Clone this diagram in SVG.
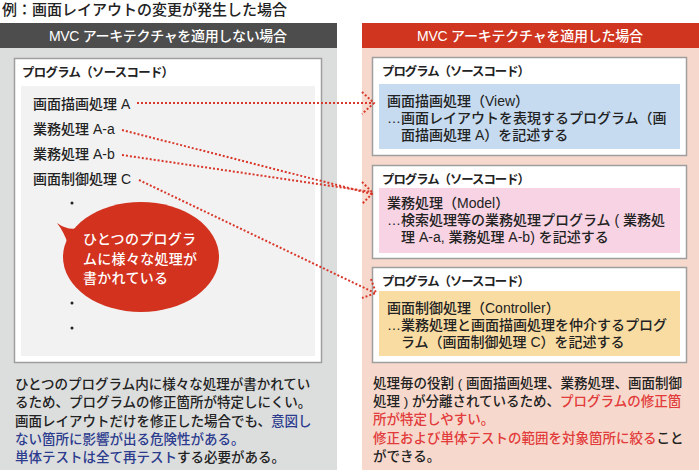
<svg xmlns="http://www.w3.org/2000/svg" width="699" height="473" viewBox="0 0 699 473">
<style>
text{font-family:"Liberation Sans","Noto Sans CJK JP",sans-serif;fill:#222;font-weight:500}
.title{font-size:15px}
.hdr{font-size:14px;fill:#fff}
.lbl{font-size:12.4px;font-weight:700}
.item{font-size:14px}
.body{font-size:14px}
.para{font-size:13.5px}
.bub{font-size:14px;fill:#fff;letter-spacing:0.3px}
.blue{fill:#2b3b8e}
.red{fill:#e23b3b}
.prog{fill:#fff;stroke:#9e9e9e;stroke-width:1.5}
.dot{fill:none;stroke:#d9372a;stroke-width:2;stroke-dasharray:2 2}
</style>
<text class="title" x="2" y="15" textLength="285">例：画面レイアウトの変更が発生した場合</text>

<g id="left-panel">
<rect x="0" y="23" width="337" height="447" fill="#dcdddd"/>
<rect x="0" y="23" width="337" height="25" fill="#4d4d4d"/>
<text class="hdr" x="49" y="41" textLength="238">MVC アーキテクチャを適用しない場合</text>
</g>
<g id="left-program">
<rect class="prog" x="14.5" y="58.5" width="307" height="304"/>
<text class="lbl" x="22" y="77" textLength="152">プログラム（ソースコード）</text>
<rect x="21" y="86" width="294" height="270" fill="#f2f2f2"/>
<text class="item" x="33" y="109">画面描画処理 A</text>
<text class="item" x="33" y="134">業務処理 A-a</text>
<text class="item" x="33" y="159">業務処理 A-b</text>
<text class="item" x="33" y="184">画面制御処理 C</text>
<circle cx="72" cy="203" r="1.5" fill="#222"/>
<circle cx="72" cy="303" r="1.5" fill="#222"/>
<circle cx="72" cy="328" r="1.5" fill="#222"/>
</g>
<g id="bubble">
<ellipse cx="141" cy="257" rx="78" ry="55" fill="#d2321e"/>
<path d="M57,223 Q68,231 79,228 L68,244 Q64,232 57,223 Z" fill="#d2321e"/>
<text class="bub" x="83" y="244">ひとつのプログラ</text>
<text class="bub" x="83" y="264">ムに様々な処理が</text>
<text class="bub" x="83" y="283">書かれている</text>
</g>
<g id="left-note">
<text class="para" x="15" y="389">ひとつのプログラム内に様々な処理が書かれてい</text>
<text class="para" x="15" y="407">るため、プログラムの修正箇所が特定しにくい。</text>
<text class="para" x="15" y="426">画面レイアウトだけを修正した場合でも、<tspan class="blue">意図し</tspan></text>
<text class="para blue" x="15" y="444">ない箇所に影響が出る危険性がある。</text>
<text class="para" x="15" y="462"><tspan class="blue">単体テストは全て再テスト</tspan>する必要がある。</text>
</g>

<g id="right-panel">
<rect x="362" y="23" width="337" height="447" fill="#f6d9cc"/>
<rect x="362" y="23" width="337" height="25" fill="#d0351f"/>
<text class="hdr" x="417" y="41" textLength="226">MVC アーキテクチャを適用した場合</text>
</g>
<g id="view">
<rect class="prog" x="372.5" y="57.5" width="314" height="98"/>
<text class="lbl" x="382" y="76" textLength="148">プログラム（ソースコード）</text>
<rect x="379" y="84" width="301" height="65" fill="#c6dbf0"/>
<text class="body" x="387" y="106">画面描画処理（View）</text>
<text class="body" x="387" y="123">…画面レイアウトを表現するプログラム（画</text>
<text class="body" x="401" y="140">面描画処理 A）を記述する</text>
</g>
<g id="model">
<rect class="prog" x="372.5" y="165.5" width="314" height="93"/>
<text class="lbl" x="382" y="184" textLength="148">プログラム（ソースコード）</text>
<rect x="379" y="188" width="301" height="65" fill="#f7d3e3"/>
<text class="body" x="387" y="208">業務処理（Model）</text>
<text class="body" x="387" y="225">…検索処理等の業務処理プログラム ( 業務処</text>
<text class="body" x="401" y="242">理 A-a, 業務処理 A-b) を記述する</text>
</g>
<g id="controller">
<rect class="prog" x="372.5" y="267.5" width="314" height="95"/>
<text class="lbl" x="382" y="286" textLength="148">プログラム（ソースコード）</text>
<rect x="379" y="291" width="301" height="65" fill="#f9dca2"/>
<text class="body" x="387" y="313">画面制御処理（Controller）</text>
<text class="body" x="387" y="330">…業務処理と画面描画処理を仲介するプログ</text>
<text class="body" x="401" y="347">ラム（画面制御処理 C）を記述する</text>
</g>
<g id="right-note">
<text class="para" x="373" y="388">処理毎の役割 ( 画面描画処理、業務処理、画面制御</text>
<text class="para" x="373" y="406">処理 ) が分離されているため、<tspan class="red">プログラムの修正箇</tspan></text>
<text class="para red" x="373" y="424">所が特定しやすい。</text>
<text class="para" x="373" y="443"><tspan class="red">修正および単体テストの範囲を対象箇所に絞る</tspan>こと</text>
<text class="para" x="373" y="461">ができる。</text>
</g>

<g id="connectors">
<path class="dot" d="M137,103 L373,103"/>
<path class="dot" d="M362,92 L374,103 L362,114"/>
<path class="dot" d="M122,130 L372,194"/>
<path class="dot" d="M122,155 L372,192"/>
<path class="dot" d="M362,182 L373,193 L362,204"/>
<path class="dot" d="M139,180 L375,293"/>
<path class="dot" d="M371,279 L376,293 L362,298"/>
</g>
</svg>
